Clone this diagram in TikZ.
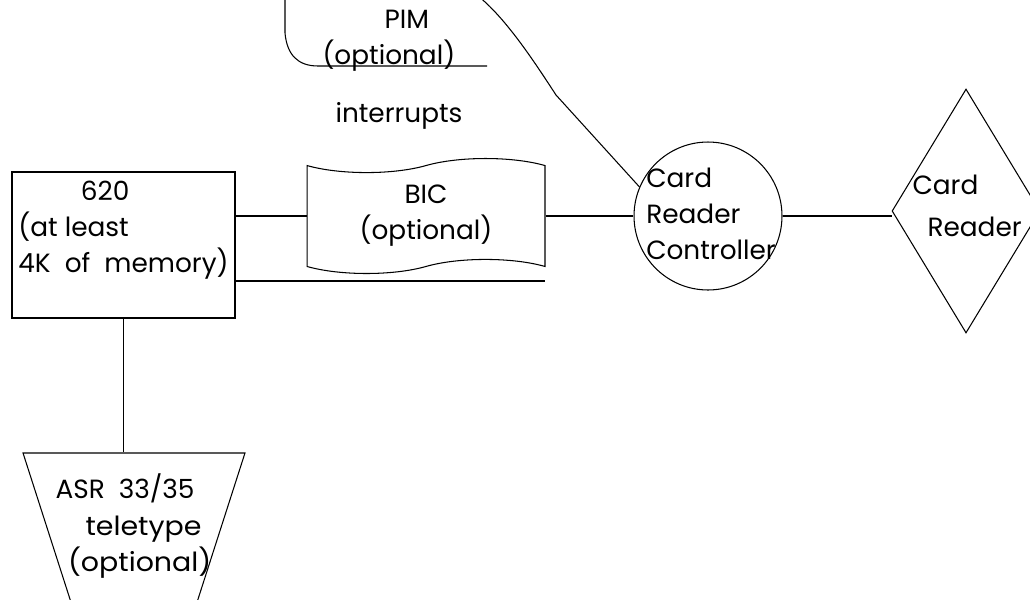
\documentclass[tikz,border=0pt]{standalone}
\usepackage{fontspec}
\usepackage{graphicx}
\setmainfont{Poppins}
\usetikzlibrary{shapes.geometric,shapes.symbols}
\tikzset{
    blk/.style={draw, line width=0.6pt, inner sep=0pt},
    lbl/.style={inner sep=0pt, align=left}
}
\begin{document}
\begin{tikzpicture}[x=0.02cm, y=-0.02cm, line width=0.6pt,
    every node/.append style={font=\fontsize{15}{20.5}\selectfont}]
    \useasboundingbox (0,0) rectangle (1030,599);
    % 1. Khối chính
    \node[blk, minimum width=4.46cm, minimum height=2.92cm, align=left] (cpu) at (123.5,245)
        {\hspace*{1.25cm}620\\(at least\\4K~ of~ memory)\\ };
    \node[blk, tape, tape bend height=8pt, minimum width=4.76cm, minimum height=2.3cm,
        align=center] (bic) at (426,216) {BIC\\(optional)};
    \node[blk, circle, minimum size=2.96cm] (ctrl) at (708,216) {};
    \node[lbl] (ctrltext) at (711,214) {Card\\Reader\\Controller};
    \node[blk, diamond, aspect=0.6, inner sep=2pt, minimum width=2.96cm,
        minimum height=4.88cm] (rdr) at (966,211) {};
    \node[lbl, anchor=west] (rdrtext) at (912,206) {Card\\[3pt]\hspace*{0.3cm}Reader};
    \node[blk, trapezium, shape border rotate=180, trapezium angle=69, inner sep=2pt,
        trapezium stretches=true, minimum width=4.44cm, minimum height=3cm] (tty) at (134,528) {};
    \node[lbl, anchor=west] (ttytext) at (55,526)
        {ASR~ 33/35\\\hspace*{0.6cm}\scalebox{1.08}[1]{teletype}\\\hspace*{0.25cm}\scalebox{1.08}[1]{(optional)}};

    % 2. PIM
    \draw (285,-10) -- (285,33) .. controls (287,55) and (298,66) .. (318,66) -- (487,66);
    \draw (470,-10) .. controls (500,10) and (530,55) .. (556,95);
    \coordinate (pimend) at (556,95);
    \node[lbl, anchor=west] (pim) at (322,41) {\hspace*{1.24cm}PIM\\(optional)};
    \node[lbl] (intr) at (399,116) {interrupts};

    % 3. Đường nối
    \draw (cpu.east |- bic.west) -- (bic.west);
    \draw (bic.east |- ctrl.west) -- (ctrl.west);
    \coordinate (bypass) at (545,281);
    \draw (cpu.east |- bypass) -- (bypass);
    \draw (pimend) -- (ctrl.157);
    \draw (ctrl.east) -- (ctrl.east -| rdr.west);
    \draw (cpu.south) -- (cpu.south |- tty.north);
\end{tikzpicture}
\end{document}
